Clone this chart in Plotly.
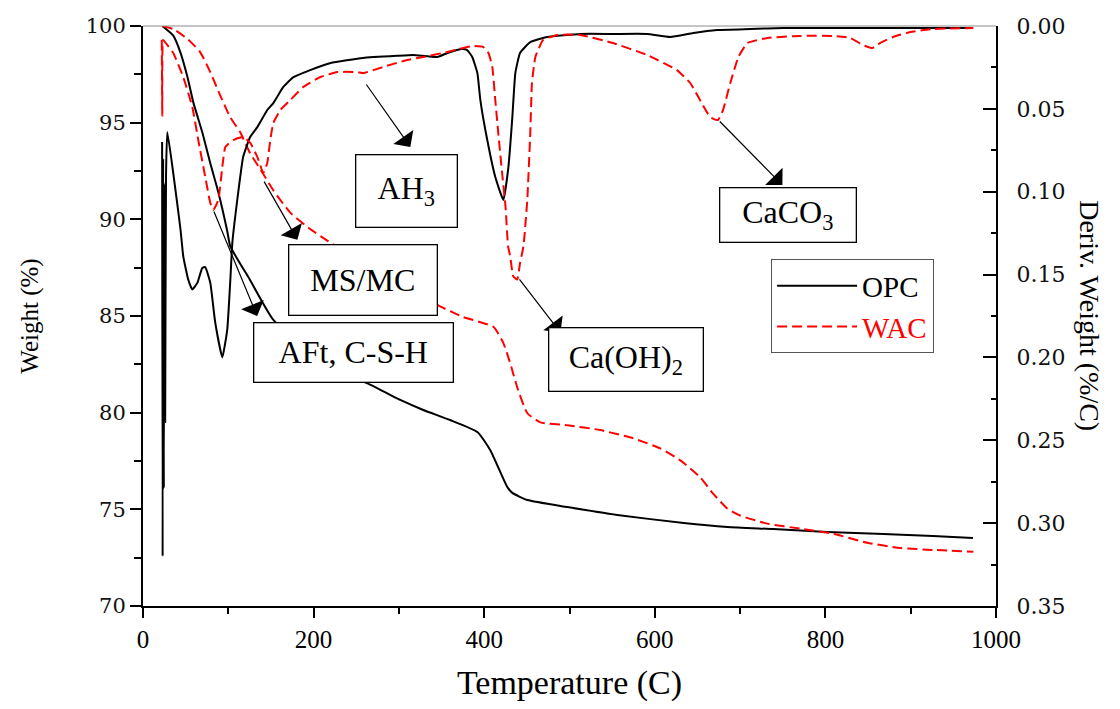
import plotly.graph_objects as go

# ---- TGA weight curves (Weight %, left axis) ----
opc_wt_temp = [22.6, 35.5, 43.7, 51.9, 59.0, 69.5, 78.9, 88.3, 98.5, 102.4, 125.0, 152.8,
               200.0, 230.0, 264.0, 301.6, 328.6, 360.0, 392.0, 407.0, 427.0, 433.0,
               450.6, 497.5, 556.0, 634.0, 685.0, 739.0, 802.0, 868.0, 926.0, 973.0]
opc_wt = [100.0, 99.5, 98.65, 97.4, 96.05, 94.5, 92.9, 91.4, 89.45, 88.6, 86.9, 84.8,
          83.0, 82.2, 81.5, 80.66, 80.14, 79.62, 79.0, 78.07, 76.16, 75.85,
          75.48, 75.12, 74.71, 74.29, 74.09, 73.98, 73.83, 73.72, 73.62, 73.52]

wac_wt_temp = [22.6, 35.5, 53.0, 67.0, 79.0, 90.6, 102.0, 114.0, 125.8, 137.5, 152.8, 172.6,
               196.0, 216.0, 260.0, 300.0, 345.0, 375.0, 411.0, 422.5, 430.5, 438.8,
               450.6, 465.9, 497.5, 536.0, 574.8, 606.5, 630.0, 653.3, 668.6, 685.0,
               700.0, 732.0, 770.6, 809.0, 849.0, 887.8, 926.5, 973.4]
wac_wt = [100.0, 99.84, 99.3, 98.65, 97.6, 96.4, 95.3, 94.5, 93.4, 92.6, 91.5, 90.35,
          89.5, 88.9, 87.7, 86.7, 85.57, 84.95, 84.43, 83.6, 82.56, 81.3,
          79.97, 79.5, 79.35, 79.1, 78.67, 78.15, 77.53, 76.65, 75.8, 75.04,
          74.68, 74.26, 74.0, 73.74, 73.27, 73.0, 72.9, 72.8]

# ---- DTG curves (Deriv. Weight %/C, right axis, reversed) ----
opc_dtg_temp = [22.4, 23.0, 23.6, 24.4, 25.2, 26.0, 27.0, 28.5, 44.0, 47.2, 53.0, 57.8,
                63.7, 69.5, 73.0, 78.9, 84.7, 93.0, 98.8, 102.4, 104.7, 110.5, 117.4,
                125.6, 134.0, 145.7, 152.8, 164.5, 176.0, 196.0, 220.0, 258.0, 298.0,
                317.0, 345.0, 357.0, 374.0, 380.0, 386.0, 392.0, 395.5, 403.6, 413.0,
                422.5, 428.4, 433.0, 436.5, 442.0, 454.0, 474.0, 513.0, 551.5, 591.0,
                618.0, 645.0, 673.0, 712.0, 751.0, 829.0, 973.0]
opc_dtg = [0.070, 0.320, 0.080, 0.279, 0.095, 0.239, 0.090, 0.064, 0.123, 0.139, 0.153, 0.159,
           0.155, 0.146, 0.1455, 0.155, 0.179, 0.200, 0.183, 0.153, 0.131, 0.105, 0.079,
           0.067, 0.061, 0.0507, 0.0465, 0.0368, 0.031, 0.0266, 0.0223, 0.0193, 0.018,
           0.0175, 0.0187, 0.0163, 0.0139, 0.0145, 0.0187, 0.0284, 0.0447, 0.0688, 0.0911,
           0.105, 0.085, 0.055, 0.0284, 0.0163, 0.0097, 0.0066, 0.0048, 0.0048, 0.0048,
           0.0066, 0.0042, 0.0024, 0.0018, 0.0012, 0.0012, 0.0012]

wac_dtg_temp = [22.0, 22.6, 23.2, 23.8, 35.5, 47.2, 57.8, 64.8, 73.0, 78.9, 82.4, 88.3,
                93.0, 96.5, 105.8, 117.6, 125.8, 134.0, 141.0, 145.7, 149.2, 152.8, 161.0,
                172.6, 188.0, 207.9, 227.8, 251.0, 258.3, 281.7, 309.8, 328.6, 356.7,
                375.5, 387.0, 399.0, 405.0, 409.5, 413.0, 416.5, 421.0, 425.0, 428.0,
                430.5, 434.0, 438.8, 442.0, 446.0, 450.5, 454.0, 456.0, 460.0, 469.0,
                485.5, 512.5, 551.0, 591.0, 626.0, 641.5, 653.0, 665.0, 674.0, 680.0,
                688.5, 698.0, 708.5, 732.0, 770.6, 809.0, 829.0, 844.0, 855.0, 864.0,
                879.5, 899.5, 926.5, 973.4]
wac_dtg = [0.0085, 0.054, 0.0085, 0.0085, 0.0163, 0.0308, 0.0489, 0.0688, 0.0911, 0.1068, 0.111, 0.105,
           0.085, 0.073, 0.0688, 0.067, 0.0706, 0.079, 0.0887, 0.0827, 0.0688, 0.0585, 0.0507,
           0.0447, 0.0368, 0.0308, 0.0278, 0.0278, 0.0284, 0.0247, 0.0205, 0.0187, 0.0157,
           0.0133, 0.0121, 0.0127, 0.0163, 0.0247, 0.0447, 0.0646, 0.0887, 0.109, 0.133,
           0.139, 0.151, 0.153, 0.143, 0.133, 0.105, 0.0646, 0.0344, 0.0187, 0.0085,
           0.0054, 0.0054, 0.0103, 0.0175, 0.0266, 0.0344, 0.0447, 0.055, 0.0567, 0.0507,
           0.0344, 0.0187, 0.0103, 0.0072, 0.006, 0.006, 0.0072, 0.0115, 0.0133, 0.0103,
           0.0066, 0.0036, 0.0018, 0.0012]

# ---- phase labels: (text, box centre T, box centre W, box w, box h, arrow tail T, tail dtg, head T, head dtg)
phase_labels = [
    ("AH<sub>3</sub>", 308.7, 91.44, 100, 71, 260.6, 0.0344, 313.4, 0.073),
    ("MS/MC", 257.7, 86.84, 147, 69, 141.0, 0.093, 181.0, 0.129),
    ("AFt, C-S-H", 246.5, 83.09, 198, 58, 82.4, 0.111, 133.8, 0.175),
    ("Ca(OH)<sub>2</sub>", 566.0, 82.73, 153, 62, 440.0, 0.152, 489.4, 0.185),
    ("CaCO<sub>3</sub>", 756.0, 90.25, 135, 53, 674.5, 0.0567, 749.6, 0.096),
]

x_ticks = [0, 200, 400, 600, 800, 1000]
wt_ticks = [70, 75, 80, 85, 90, 95, 100]
dtg_ticks = [0.00, 0.05, 0.10, 0.15, 0.20, 0.25, 0.30, 0.35]

SERIF = "Liberation Serif, Times New Roman, serif"
NUMS = "DejaVu Serif, serif"
RED = "#ff0000"
DASH = "10px,5px"

fig = go.Figure()
fig.add_trace(go.Scatter(x=opc_wt_temp, y=opc_wt, mode="lines", name="OPC",
                         legendgroup="opc",
                         line=dict(color="black", width=2, shape="spline", smoothing=0.5)))
fig.add_trace(go.Scatter(x=wac_wt_temp, y=wac_wt, mode="lines", name="<span style='color:#ff0000'>WAC</span>",
                         legendgroup="wac",
                         line=dict(color=RED, width=2, dash=DASH, shape="spline", smoothing=0.5)))
fig.add_trace(go.Scatter(x=opc_dtg_temp, y=opc_dtg, mode="lines", name="OPC",
                         legendgroup="opc", showlegend=False, yaxis="y2",
                         line=dict(color="black", width=2, shape="spline", smoothing=0.4)))
fig.add_trace(go.Scatter(x=wac_dtg_temp, y=wac_dtg, mode="lines", name="WAC",
                         legendgroup="wac", showlegend=False, yaxis="y2",
                         line=dict(color=RED, width=2, dash=DASH, shape="spline", smoothing=0.4)))

annotations = []
for text, bx, by, bw, bh, tx, ty, hx, hy in phase_labels:
    annotations.append(dict(
        x=hx, y=hy, xref="x", yref="y2", ax=tx, ay=ty, axref="x", ayref="y2",
        text="", showarrow=True, arrowhead=1, arrowsize=3.4, arrowwidth=1.2,
        arrowcolor="black"))
for text, bx, by, bw, bh, tx, ty, hx, hy in phase_labels:
    annotations.append(dict(
        x=bx, y=by, xref="x", yref="y", text=text, showarrow=False,
        width=bw, height=bh, borderpad=0, borderwidth=1.3, bordercolor="black",
        bgcolor="white", font=dict(family=SERIF, size=32, color="black")))

annotations.append(dict(
    x=1.11, y=0.5, xref="paper", yref="paper", xanchor="center", yanchor="middle",
    text="Deriv. Weight (%/C)", textangle=90, showarrow=False,
    font=dict(family=SERIF, size=28, color="black")))

fig.update_layout(
    width=1120, height=709,
    margin=dict(l=143, r=124, t=26, b=103),
    paper_bgcolor="white", plot_bgcolor="white",
    showlegend=True,
    legend=dict(x=0.736, y=0.598, xanchor="left", yanchor="top",
                bordercolor="#555555", borderwidth=1.3, bgcolor="white",
                font=dict(family=SERIF, size=29, color="black"),
                itemwidth=80, tracegroupgap=0),
    xaxis=dict(range=[0, 1000], tickvals=x_ticks, ticktext=[str(v) for v in x_ticks],
               ticks="outside", ticklen=10, tickwidth=1.5, tickcolor="black",
               minor=dict(dtick=100, ticks="outside", ticklen=6, tickwidth=1.5, tickcolor="black"),
               showline=True, linecolor="black", linewidth=2, showgrid=False, zeroline=False,
               tickfont=dict(family=SERIF, size=25, color="black"),
               title=dict(text="Temperature (C)", font=dict(family=SERIF, size=34, color="black"),
                          standoff=18)),
    yaxis=dict(range=[70, 100], tickvals=wt_ticks, ticks="outside", ticklen=11, tickwidth=1.5,
               tickcolor="black",
               minor=dict(dtick=2.5, ticks="outside", ticklen=7, tickwidth=1.5, tickcolor="black"),
               showline=True, linecolor="black", linewidth=2, showgrid=False, zeroline=False,
               tickfont=dict(family=NUMS, size=21, color="#111111"),
               title=dict(text="Weight (%)", font=dict(family=SERIF, size=25, color="black"),
                          standoff=40)),
    yaxis2=dict(range=[0.35, 0.0], overlaying="y", side="right", tickvals=dtg_ticks,
                tickformat=".2f", ticks="inside", ticklen=13, tickwidth=1.5, tickcolor="black",
                minor=dict(dtick=0.025, ticks="inside", ticklen=5, tickwidth=1.5, tickcolor="black"),
                showline=True, linecolor="black", linewidth=2, showgrid=False, zeroline=False,
                ticklabelstandoff=14,
                tickfont=dict(family=NUMS, size=22, color="#111111")),
    annotations=annotations,
    shapes=[dict(type="line", xref="paper", yref="paper", x0=0, x1=1, y0=1, y1=1,
                 line=dict(color="#8c8c8c", width=1.2))],
)

fig.write_html("out.html")
